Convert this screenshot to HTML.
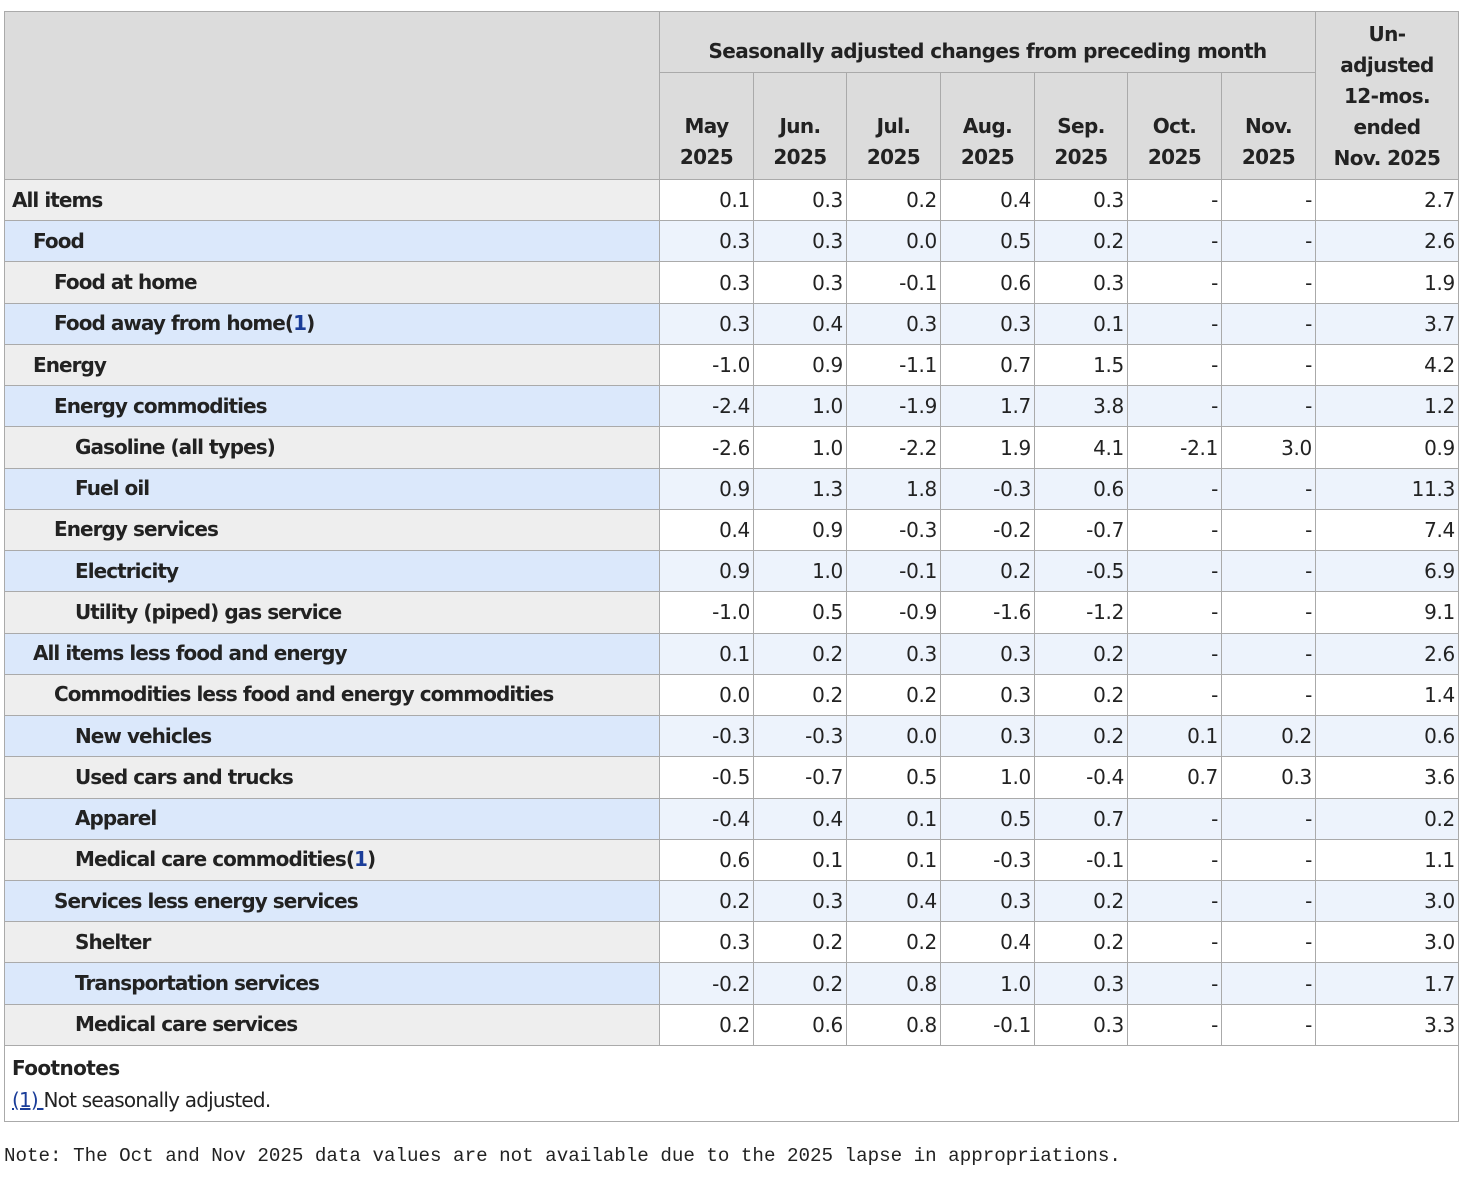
<!DOCTYPE html>
<html><head><meta charset="utf-8"><style>
body{margin:0;background:#fff;width:1464px;height:1178px;position:relative;font-family:"DejaVu Sans","Liberation Sans",sans-serif;color:#222}
table{position:absolute;left:4px;top:11px;border-collapse:collapse;table-layout:fixed;width:1454px}
td,th{border:1px solid #aaa;padding:0;font-size:20px}
th{background:#dcdcdc;font-weight:bold;line-height:31px;letter-spacing:-0.6px}
tbody tr{height:41.24px}
tbody th{text-align:left;font-weight:bold;letter-spacing:-0.95px}
tbody td{text-align:right;padding-right:3px;background:#fff;letter-spacing:-0.3px}
tr.b th{background:#dbe8fb}tr.b td{background:#edf3fc}
tr.g th{background:#eee}
.l0{padding-left:7px}.l1{padding-left:28px}.l2{padding-left:49px}.l3{padding-left:70px}
a{color:#1a3d99}
.fn td{text-align:left;background:#fff;padding:6px 7px 5px;line-height:32px}
.note{position:absolute;left:4px;top:1145px;font-family:"Liberation Mono",monospace;font-size:19.2px;white-space:pre}
</style></head><body>
<table>
<colgroup><col style="width:655px"><col style="width:94px"><col style="width:93px"><col style="width:94px"><col style="width:94px"><col style="width:93px"><col style="width:94px"><col style="width:94px"><col style="width:143px"></colgroup>
<thead>
<tr style="height:61px"><th rowspan="2"></th><th colspan="7" style="vertical-align:bottom;padding-bottom:5px">Seasonally adjusted changes from preceding month</th><th rowspan="2" style="vertical-align:middle;padding-top:2px">Un-<br>adjusted<br>12-mos.<br>ended<br>Nov. 2025</th></tr>
<tr style="height:107px"><th style="vertical-align:bottom;padding-bottom:6px">May<br>2025</th><th style="vertical-align:bottom;padding-bottom:6px">Jun.<br>2025</th><th style="vertical-align:bottom;padding-bottom:6px">Jul.<br>2025</th><th style="vertical-align:bottom;padding-bottom:6px">Aug.<br>2025</th><th style="vertical-align:bottom;padding-bottom:6px">Sep.<br>2025</th><th style="vertical-align:bottom;padding-bottom:6px">Oct.<br>2025</th><th style="vertical-align:bottom;padding-bottom:6px">Nov.<br>2025</th></tr>
</thead>
<tbody>
<tr class="g"><th class="l0">All items</th><td>0.1</td><td>0.3</td><td>0.2</td><td>0.4</td><td>0.3</td><td>-</td><td>-</td><td>2.7</td></tr>
<tr class="b"><th class="l1">Food</th><td>0.3</td><td>0.3</td><td>0.0</td><td>0.5</td><td>0.2</td><td>-</td><td>-</td><td>2.6</td></tr>
<tr class="g"><th class="l2">Food at home</th><td>0.3</td><td>0.3</td><td>-0.1</td><td>0.6</td><td>0.3</td><td>-</td><td>-</td><td>1.9</td></tr>
<tr class="b"><th class="l2">Food away from home(<a>1</a>)</th><td>0.3</td><td>0.4</td><td>0.3</td><td>0.3</td><td>0.1</td><td>-</td><td>-</td><td>3.7</td></tr>
<tr class="g"><th class="l1">Energy</th><td>-1.0</td><td>0.9</td><td>-1.1</td><td>0.7</td><td>1.5</td><td>-</td><td>-</td><td>4.2</td></tr>
<tr class="b"><th class="l2">Energy commodities</th><td>-2.4</td><td>1.0</td><td>-1.9</td><td>1.7</td><td>3.8</td><td>-</td><td>-</td><td>1.2</td></tr>
<tr class="g"><th class="l3">Gasoline (all types)</th><td>-2.6</td><td>1.0</td><td>-2.2</td><td>1.9</td><td>4.1</td><td>-2.1</td><td>3.0</td><td>0.9</td></tr>
<tr class="b"><th class="l3">Fuel oil</th><td>0.9</td><td>1.3</td><td>1.8</td><td>-0.3</td><td>0.6</td><td>-</td><td>-</td><td>11.3</td></tr>
<tr class="g"><th class="l2">Energy services</th><td>0.4</td><td>0.9</td><td>-0.3</td><td>-0.2</td><td>-0.7</td><td>-</td><td>-</td><td>7.4</td></tr>
<tr class="b"><th class="l3">Electricity</th><td>0.9</td><td>1.0</td><td>-0.1</td><td>0.2</td><td>-0.5</td><td>-</td><td>-</td><td>6.9</td></tr>
<tr class="g"><th class="l3">Utility (piped) gas service</th><td>-1.0</td><td>0.5</td><td>-0.9</td><td>-1.6</td><td>-1.2</td><td>-</td><td>-</td><td>9.1</td></tr>
<tr class="b"><th class="l1">All items less food and energy</th><td>0.1</td><td>0.2</td><td>0.3</td><td>0.3</td><td>0.2</td><td>-</td><td>-</td><td>2.6</td></tr>
<tr class="g"><th class="l2">Commodities less food and energy commodities</th><td>0.0</td><td>0.2</td><td>0.2</td><td>0.3</td><td>0.2</td><td>-</td><td>-</td><td>1.4</td></tr>
<tr class="b"><th class="l3">New vehicles</th><td>-0.3</td><td>-0.3</td><td>0.0</td><td>0.3</td><td>0.2</td><td>0.1</td><td>0.2</td><td>0.6</td></tr>
<tr class="g"><th class="l3">Used cars and trucks</th><td>-0.5</td><td>-0.7</td><td>0.5</td><td>1.0</td><td>-0.4</td><td>0.7</td><td>0.3</td><td>3.6</td></tr>
<tr class="b"><th class="l3">Apparel</th><td>-0.4</td><td>0.4</td><td>0.1</td><td>0.5</td><td>0.7</td><td>-</td><td>-</td><td>0.2</td></tr>
<tr class="g"><th class="l3">Medical care commodities(<a>1</a>)</th><td>0.6</td><td>0.1</td><td>0.1</td><td>-0.3</td><td>-0.1</td><td>-</td><td>-</td><td>1.1</td></tr>
<tr class="b"><th class="l2">Services less energy services</th><td>0.2</td><td>0.3</td><td>0.4</td><td>0.3</td><td>0.2</td><td>-</td><td>-</td><td>3.0</td></tr>
<tr class="g"><th class="l3">Shelter</th><td>0.3</td><td>0.2</td><td>0.2</td><td>0.4</td><td>0.2</td><td>-</td><td>-</td><td>3.0</td></tr>
<tr class="b"><th class="l3">Transportation services</th><td>-0.2</td><td>0.2</td><td>0.8</td><td>1.0</td><td>0.3</td><td>-</td><td>-</td><td>1.7</td></tr>
<tr class="g"><th class="l3">Medical care services</th><td>0.2</td><td>0.6</td><td>0.8</td><td>-0.1</td><td>0.3</td><td>-</td><td>-</td><td>3.3</td></tr>
<tr class="fn" style="height:75px"><td colspan="9"><b style="letter-spacing:-0.6px">Footnotes</b><br><span style="letter-spacing:-0.8px"><a style="text-decoration:underline">(1) </a>Not seasonally adjusted.</span></td></tr>
</tbody>
</table>
<div class="note">Note: The Oct and Nov 2025 data values are not available due to the 2025 lapse in appropriations.</div>
</body></html>
